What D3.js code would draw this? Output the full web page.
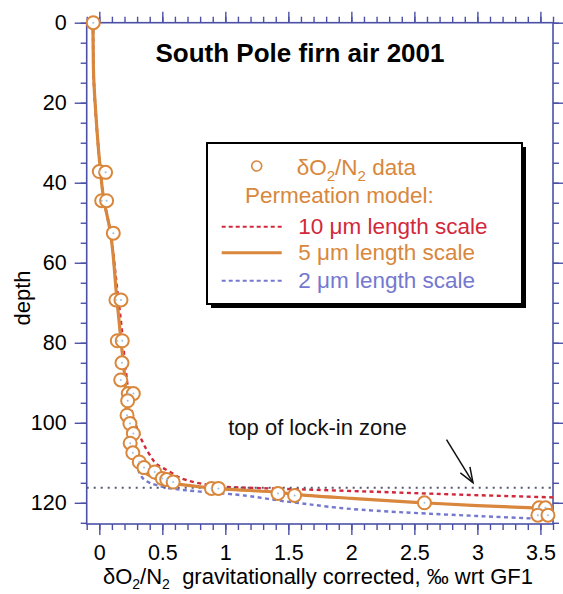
<!DOCTYPE html>
<html><head><meta charset="utf-8">
<script src="https://cdn.jsdelivr.net/npm/d3@7"></script>
<style>
html,body{margin:0;padding:0;background:#fff;}
svg{display:block;font-family:"Liberation Sans",Arial,Helvetica,sans-serif;}
</style></head>
<body>
<svg id="chart" width="563" height="594"></svg>
<script>
// ---- data ----
const dataValues = [-0.048, 0.0, 0.05, 0.019, 0.058, 0.111, 0.132, 0.172, 0.143, 0.182, 0.18, 0.17, 0.23, 0.27, 0.225, 0.22, 0.243, 0.27, 0.245, 0.266, 0.317, 0.355, 0.44, 0.50, 0.535, 0.586, 0.89, 0.945, 1.418, 1.55, 2.58, 3.49, 3.54, 3.48, 3.56];
const dataDepths = [0, 37.2, 37.4, 44.5, 44.5, 52.6, 69.3, 69.3, 79.5, 79.5, 85, 89.3, 92.7, 92.7, 94.5, 98.1, 100.2, 102.7, 105.1, 107.5, 109.8, 111.2, 112.3, 113.9, 114.2, 114.8, 116.4, 116.4, 117.65, 118.15, 120.0, 121.25, 121.25, 123.1, 123.1];

const model5Values = [-0.05, -0.047, -0.026, 0.006, 0.032, 0.085, 0.138, 0.177, 0.204, 0.217, 0.235, 0.27, 0.3, 0.34, 0.4, 0.5, 0.6, 0.8, 1.0, 1.4, 1.55, 2.0, 2.57, 3.0, 3.55];
const model5Depths = [0, 11, 23.5, 36, 43.5, 51.8, 68.5, 81, 89.3, 97, 102, 108.5, 110.5, 112, 113.2, 114.5, 115.2, 116.0, 116.6, 117.3, 117.9, 118.9, 120, 120.7, 121.4];

const model10Values = [-0.05, -0.047, -0.026, 0.006, 0.032, 0.085, 0.14, 0.18, 0.21, 0.27, 0.35, 0.40, 0.467, 0.56, 0.69, 0.8, 1.0, 1.6, 2.2, 2.8, 3.6];
const model10Depths = [0, 11, 23.5, 36, 43.5, 51.8, 66, 77, 86.8, 98.5, 105.2, 108, 110.6, 112.25, 114.3, 115.15, 116.0, 116.65, 117.25, 117.9, 118.65];

const model2Values = [-0.05, -0.047, -0.026, 0.006, 0.032, 0.085, 0.138, 0.177, 0.204, 0.217, 0.235, 0.26, 0.29, 0.336, 0.455, 0.586, 0.8, 1.0, 1.54, 2.2, 2.6, 3.0, 3.6];
const model2Depths = [0, 11, 23.5, 36, 43.5, 51.8, 68.5, 81, 89.3, 97, 102, 107, 109.5, 113.5, 115.6, 116.5, 117.2, 117.7, 119.9, 122, 122.7, 123.3, 124.15];

const lockInDepth = 116.25;
const xMajorTicks = [0, 0.5, 1, 1.5, 2, 2.5, 3, 3.5];
const xTickLabels = ["0", "0.5", "1", "1.5", "2", "2.5", "3", "3.5"];
const yMajorTicks = [0, 20, 40, 60, 80, 100, 120];
const yTickLabels = ["0", "20", "40", "60", "80", "100", "120"];

// ---- setup ----
const svg = d3.select("#chart");
const L = 86.7, R = 553, T = 22.7, B = 524;
const x = d3.scaleLinear().domain([-0.1, 3.6]).range([L, R]);
const y = d3.scaleLinear().domain([0, 125.3]).range([T, B]);

const axisColor = "#4b50a6";
const orange = "#d8873c";
const red = "#d2283b";
const blue = "#7478cf";

// ---- axes ----
const xMinor = d3.range(-10, 361, 10).map(v => v / 100);
const yMinor = d3.range(0, 126, 5);

function styleAxis(g) {
  g.select(".domain").remove();
  g.selectAll(".tick line").attr("stroke", axisColor).attr("stroke-width", 1.4);
  g.selectAll("text").attr("fill", "#000").attr("font-size", 21.5)
    .attr("font-family", "'Liberation Sans',Arial,Helvetica,sans-serif");
}

// minor
svg.append("g").attr("transform", `translate(${L},0)`)
  .call(d3.axisLeft(y).tickValues(yMinor).tickSize(6).tickFormat("")).call(styleAxis);
svg.append("g").attr("transform", `translate(${R},0)`)
  .call(d3.axisRight(y).tickValues(yMinor).tickSize(6).tickFormat("")).call(styleAxis);
svg.append("g").attr("transform", `translate(0,${T})`)
  .call(d3.axisTop(x).tickValues(xMinor).tickSize(6).tickFormat("")).call(styleAxis);
svg.append("g").attr("transform", `translate(0,${B})`)
  .call(d3.axisBottom(x).tickValues(xMinor).tickSize(6).tickFormat("")).call(styleAxis);
// major
svg.append("g").attr("transform", `translate(${L},0)`)
  .call(d3.axisLeft(y).tickValues(yMajorTicks).tickSize(12).tickPadding(8)
    .tickFormat((d, i) => yTickLabels[i])).call(styleAxis);
svg.append("g").attr("transform", `translate(${R},0)`)
  .call(d3.axisRight(y).tickValues(yMajorTicks).tickSize(10).tickFormat("")).call(styleAxis);
svg.append("g").attr("transform", `translate(0,${T})`)
  .call(d3.axisTop(x).tickValues(xMajorTicks).tickSize(11).tickFormat("")).call(styleAxis);
svg.append("g").attr("transform", `translate(0,${B})`)
  .call(d3.axisBottom(x).tickValues(xMajorTicks).tickSize(11).tickPadding(10)
    .tickFormat((d, i) => xTickLabels[i])).call(styleAxis);

// frame
svg.append("rect").attr("x", L).attr("y", T).attr("width", R - L).attr("height", B - T)
  .attr("fill", "none").attr("stroke", axisColor).attr("stroke-width", 1.6);

// axis titles
const xt = svg.append("text").attr("x", 318).attr("y", 584).attr("text-anchor", "middle")
  .attr("font-size", 22).attr("fill", "#000");
xt.append("tspan").text("δO");
xt.append("tspan").attr("font-size", 14).attr("dy", 5).text("2");
xt.append("tspan").attr("dy", -5).text("/N");
xt.append("tspan").attr("font-size", 14).attr("dy", 5).text("2");
xt.append("tspan").attr("dy", -5).text("\u00a0 gravitationally corrected, ‰ wrt GF1");

svg.append("text").attr("transform", "translate(30,298) rotate(-90)")
  .attr("text-anchor", "middle").attr("font-size", 22).attr("fill", "#000").text("depth");

// title
svg.append("text").attr("x", 300).attr("y", 62).attr("text-anchor", "middle")
  .attr("font-size", 26).attr("font-weight", "bold").attr("fill", "#000")
  .text("South Pole firn air 2001");

// ---- model curves ----
const line = d3.line().x(d => x(d[0])).y(d => y(d[1])).curve(d3.curveMonotoneY);
const zip = (a, b) => a.map((v, i) => [v, b[i]]);

svg.append("path").datum(zip(model2Values, model2Depths)).attr("d", line)
  .attr("fill", "none").attr("stroke", blue).attr("stroke-width", 2.4).attr("stroke-dasharray", "4,3.5");
svg.append("path").datum(zip(model10Values, model10Depths)).attr("d", line)
  .attr("fill", "none").attr("stroke", red).attr("stroke-width", 2.4).attr("stroke-dasharray", "4,3.5");

// lock-in line
svg.append("line").attr("x1", L).attr("x2", R).attr("y1", y(lockInDepth)).attr("y2", y(lockInDepth))
  .attr("stroke", "#55596e").attr("stroke-width", 2).attr("stroke-dasharray", "2,5");

svg.append("path").datum(zip(model5Values, model5Depths)).attr("d", line)
  .attr("fill", "none").attr("stroke", orange).attr("stroke-width", 3.2);

// data points
const pts = zip(dataValues, dataDepths);
svg.append("g").selectAll("circle").data(pts).join("circle")
  .attr("cx", d => x(d[0])).attr("cy", d => y(d[1])).attr("r", 6.5)
  .attr("fill", "#fff").attr("stroke", orange).attr("stroke-width", 2);
svg.append("g").selectAll("circle").data(pts).join("circle")
  .attr("cx", d => x(d[0])).attr("cy", d => y(d[1])).attr("r", 1)
  .attr("fill", "#9cc0e4");

// annotation
svg.append("text").attr("x", x(1.023)).attr("y", y(103.1)).attr("font-size", 22)
  .attr("fill", "#111").text("top of lock-in zone");
const a0 = [x(2.755), y(104.2)], a1 = [x(2.965), y(114.95)];
svg.append("line").attr("x1", a0[0]).attr("y1", a0[1]).attr("x2", a1[0]).attr("y2", a1[1])
  .attr("stroke", "#111").attr("stroke-width", 1.5);
{
  const dx = a1[0] - a0[0], dy = a1[1] - a0[1], len = Math.hypot(dx, dy);
  const ux = dx / len, uy = dy / len, hl = 16, ang = 0.36;
  const p = (s) => [a1[0] - hl * (ux * Math.cos(ang) - s * uy * Math.sin(ang)),
                    a1[1] - hl * (uy * Math.cos(ang) + s * ux * Math.sin(ang))];
  const pA = p(1), pB = p(-1);
  svg.append("path").attr("d", `M${pA[0]},${pA[1]}L${a1[0]},${a1[1]}L${pB[0]},${pB[1]}`)
    .attr("fill", "none").attr("stroke", "#111").attr("stroke-width", 1.5);
}

// ---- legend ----
const lg = svg.append("g");
lg.append("rect").attr("x", 211).attr("y", 147).attr("width", 315).attr("height", 161).attr("fill", "#000");
lg.append("rect").attr("x", 207).attr("y", 143).attr("width", 315).attr("height", 161)
  .attr("fill", "#fff").attr("stroke", "#000").attr("stroke-width", 2);

lg.append("circle").attr("cx", 256.7).attr("cy", 166).attr("r", 5).attr("fill", "#fff")
  .attr("stroke", orange).attr("stroke-width", 1.6);
const t1 = lg.append("text").attr("x", 296.7).attr("y", 175).attr("font-size", 22.5).attr("fill", orange);
t1.append("tspan").text("δO");
t1.append("tspan").attr("font-size", 15).attr("dy", 6).text("2");
t1.append("tspan").attr("dy", -6).text("/N");
t1.append("tspan").attr("font-size", 15).attr("dy", 6).text("2");
t1.append("tspan").attr("dy", -6).text(" data");

lg.append("text").attr("x", 245).attr("y", 202.5).attr("font-size", 22.5).attr("fill", orange)
  .text("Permeation model:");

const legItems = [
  {label: "10 μm length scale", color: red, dash: "4,3", w: 2, ly: 226.7, ty: 234},
  {label: "5 μm length scale", color: orange, dash: null, w: 3, ly: 252.7, ty: 260},
  {label: "2 μm length scale", color: blue, dash: "4,3", w: 2, ly: 280.7, ty: 288}
];
legItems.forEach(it => {
  const l = lg.append("line").attr("x1", 221.7).attr("x2", 281.7).attr("y1", it.ly).attr("y2", it.ly)
    .attr("stroke", it.color).attr("stroke-width", it.w);
  if (it.dash) l.attr("stroke-dasharray", it.dash);
  lg.append("text").attr("x", 298.3).attr("y", it.ty).attr("font-size", 22.5).attr("fill", it.color).text(it.label);
});
</script>
</body></html>
